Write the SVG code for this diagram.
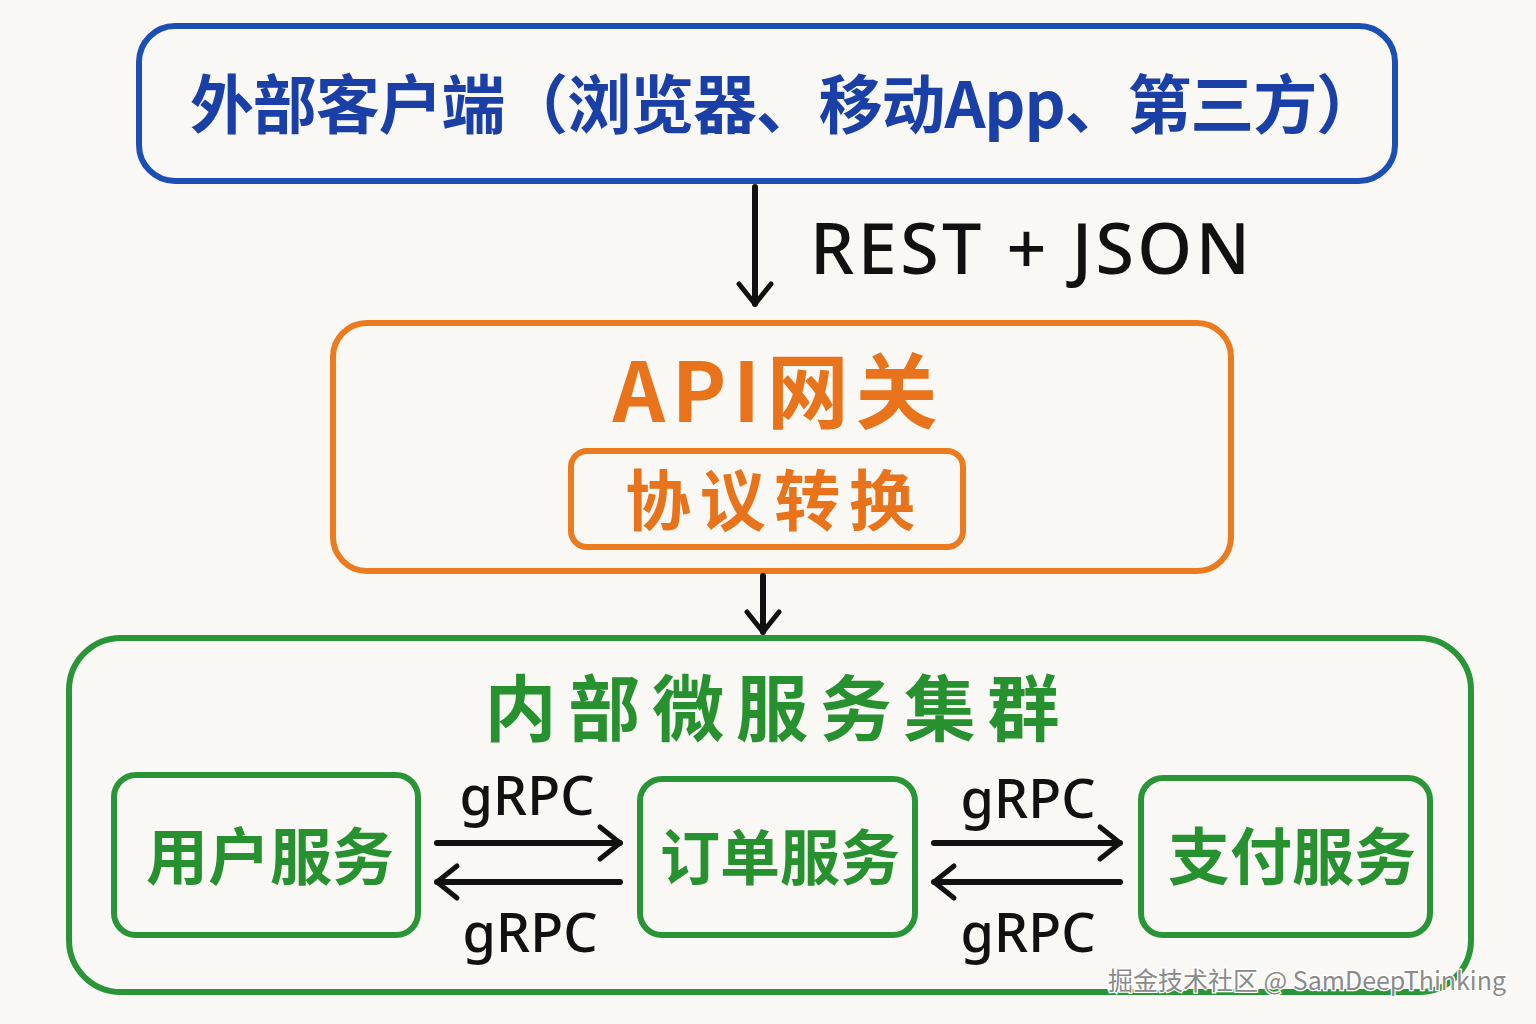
<svg xmlns="http://www.w3.org/2000/svg" width="1536" height="1024" viewBox="0 0 1536 1024">
<defs>
<marker id="ah2" viewBox="0 0 40 40" refX="36" refY="20" markerWidth="40" markerHeight="40" markerUnits="userSpaceOnUse" orient="auto">
<path d="M16 4 L36 20 L16 36" fill="none" stroke="#111" stroke-width="5" stroke-linecap="round" stroke-linejoin="round"/>
</marker>
</defs>
<style>
.cjk{font-family:"Noto Sans CJK SC","Noto Sans",sans-serif;font-weight:700;text-anchor:middle}
.lat{font-family:"Noto Sans","Noto Sans CJK SC",sans-serif;font-weight:500;text-anchor:middle;fill:#111}
.blue{fill:none;stroke:#1b4fb3;stroke-width:6}
.orange{fill:none;stroke:#ec7a1e;stroke-width:6}
.green{fill:none;stroke:#2a9537;stroke-width:6}
.conn{stroke:#111;stroke-width:6;stroke-linecap:round;fill:none}
</style>
<rect width="1536" height="1024" fill="#f9f8f4"/>

<g id="client">
<rect class="blue" x="139" y="26" width="1256" height="155" rx="36"/>
<text class="cjk" x="785" y="128" font-size="64" fill="#1a3fa6" textLength="1190" lengthAdjust="spacing">外部客户端（浏览器、移动App、第三方）</text>
</g>

<g id="gateway">
<rect class="orange" x="333" y="323" width="898" height="248" rx="34"/>
<text class="cjk" x="775" y="422" font-size="82" fill="#e8731a" textLength="325" lengthAdjust="spacing">API网关</text>
</g>

<g id="protocol">
<rect class="orange" x="571" y="451" width="392" height="96" rx="16"/>
<text class="cjk" x="770" y="525" font-size="66" fill="#e8731a" textLength="290" lengthAdjust="spacing">协议转换</text>
</g>

<g id="cluster">
<rect class="green" x="69" y="638" width="1402" height="354" rx="52"/>
<text class="cjk" x="772" y="735" font-size="72" fill="#27912f" textLength="575" lengthAdjust="spacing">内部微服务集群</text>
</g>

<g id="user">
<rect class="green" x="114" y="775" width="304" height="160" rx="22"/>
<text class="cjk" x="270" y="880" font-size="62" fill="#27912f">用户服务</text>
</g>

<g id="order">
<rect class="green" x="640" y="779" width="275" height="156" rx="22"/>
<text class="cjk" x="780" y="880" font-size="60" fill="#27912f">订单服务</text>
</g>

<g id="pay">
<rect class="green" x="1141" y="778" width="289" height="157" rx="22"/>
<text class="cjk" x="1292" y="880" font-size="62" fill="#27912f">支付服务</text>
</g>

<g id="connectors">
<line class="conn" x1="755" y1="187" x2="755" y2="304" marker-end="url(#ah2)"/>
<text class="lat" x="1030" y="274" font-size="70" textLength="440" lengthAdjust="spacing">REST + JSON</text>
<line class="conn" x1="763" y1="576" x2="763" y2="632" marker-end="url(#ah2)"/>

<line class="conn" x1="437" y1="843" x2="620" y2="843" marker-end="url(#ah2)"/>
<line class="conn" x1="620" y1="882" x2="437" y2="882" marker-end="url(#ah2)"/>
<text class="lat" x="527" y="815" font-size="54">gRPC</text>
<text class="lat" x="530" y="952" font-size="54">gRPC</text>

<line class="conn" x1="934" y1="843" x2="1120" y2="843" marker-end="url(#ah2)"/>
<line class="conn" x1="1120" y1="882" x2="934" y2="882" marker-end="url(#ah2)"/>
<text class="lat" x="1028" y="818" font-size="54">gRPC</text>
<text class="lat" x="1028" y="952" font-size="54">gRPC</text>
</g>

<text x="1307" y="990" font-family="Noto Sans CJK SC, Noto Sans, sans-serif" font-size="25" text-anchor="middle" fill="#8a8a8a" stroke="#ffffff" stroke-width="2.5" paint-order="stroke">掘金技术社区 @ SamDeepThinking</text>
</svg>
